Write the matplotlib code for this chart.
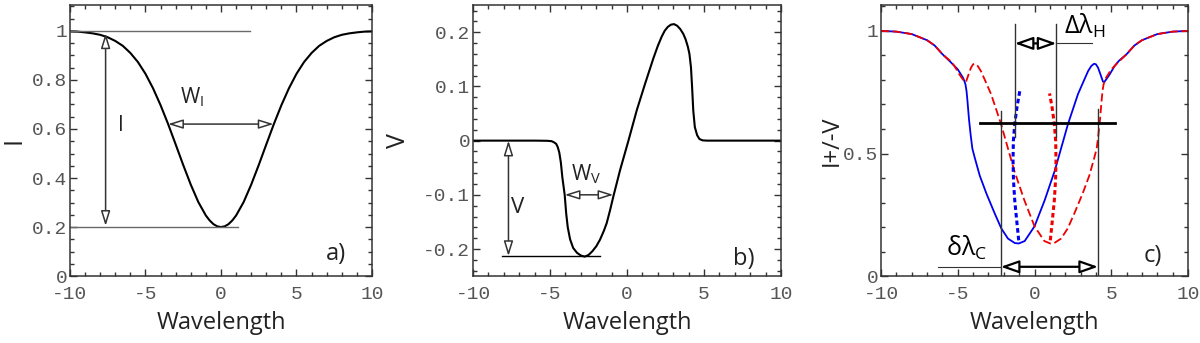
import matplotlib
matplotlib.use("Agg")
import matplotlib.pyplot as plt
from matplotlib.ticker import MultipleLocator

plt.rcParams['font.family'] = ['Open Sans', 'DejaVu Sans']
plt.rcParams['mathtext.fontset'] = 'custom'
plt.rcParams['mathtext.rm'] = 'Open Sans'
plt.rcParams['axes.unicode_minus'] = False

# a) Stokes I profile
wl_i = [-10, -9.5, -9, -8.5, -8, -7.5, -7, -6.5, -6, -5.5, -5, -4.5, -4, -3.5, -3, -2.5, -2, -1.5, -1,
        -0.75, -0.5, -0.25, 0, 0.25, 0.5, 0.75,
        1, 1.5, 2, 2.5, 3, 3.5, 4, 4.5, 5, 5.5, 6, 6.5, 7, 7.5, 8, 8.5, 9, 9.5, 10]
intensity = [0.998, 0.997, 0.994, 0.990, 0.984, 0.974, 0.959, 0.939, 0.910, 0.873, 0.825, 0.766, 0.697,
             0.620, 0.537, 0.453, 0.373, 0.302, 0.247,
             0.227, 0.212, 0.203, 0.200, 0.203, 0.212, 0.227,
             0.247, 0.302, 0.373, 0.453, 0.537, 0.620, 0.697, 0.766, 0.825, 0.873, 0.910, 0.939, 0.959,
             0.974, 0.984, 0.990, 0.994, 0.997, 0.998]

# b) Stokes V profile
wl_v = [-10, -6, -5.2, -4.9, -4.75, -4.6, -4.5, -4.4, -4.3, -4.2, -4.05, -3.95, -3.85, -3.7, -3.5,
        -3.25, -3.0, -2.75, -2.5, -2.25, -2.0, -1.76, -1.5, -1.32, -1.1, -0.89, -0.45, 0.09, 0.63,
        1.17, 1.71, 2.0, 2.25, 2.45, 2.65, 2.85, 3.05, 3.25, 3.45, 3.65, 3.8, 3.95, 4.05, 4.15, 4.22,
        4.3, 4.4, 4.55, 4.7, 4.9, 5.2, 10]
stokes_v = [0, 0, -0.0003, -0.001, -0.003, -0.006, -0.012, -0.022, -0.04, -0.068, -0.1, -0.135, -0.16,
            -0.182, -0.198, -0.207, -0.212, -0.214, -0.211, -0.204, -0.195, -0.183, -0.166, -0.152,
            -0.128, -0.103, -0.054, 0, 0.056, 0.105, 0.152, 0.175, 0.192, 0.203, 0.210, 0.214, 0.215,
            0.212, 0.206, 0.197, 0.187, 0.173, 0.160, 0.135, 0.100, 0.055, 0.025, 0.010, 0.003, 0.0005,
            0, 0]

# c) I+V and I-V
wl_plus = [-10, -9, -8, -7, -6.5, -6, -5.5, -5, -4.75, -4.66, -4.58, -4.5, -4.43, -4.37, -4.27, -4.16,
           -4.05, -3.9, -3.57, -3.13, -2.59, -2.16, -1.73, -1.29, -1.03, -0.64, 0.0, 0.66, 1.32, 2.18,
           2.83, 3.2, 3.49, 3.7, 3.88, 4.0, 4.14, 4.3, 4.46, 4.55, 4.68, 4.9, 5.22, 5.5, 6, 6.5, 7, 8,
           9, 10]
i_plus_v = [1.0, 0.997, 0.987, 0.962, 0.940, 0.905, 0.875, 0.843, 0.818, 0.809, 0.797, 0.782, 0.755,
            0.715, 0.640, 0.575, 0.520, 0.484, 0.410, 0.336, 0.255, 0.194, 0.153, 0.135, 0.133, 0.143,
            0.203, 0.309, 0.430, 0.620, 0.742, 0.795, 0.836, 0.857, 0.866, 0.864, 0.850, 0.822, 0.793,
            0.792, 0.803, 0.823, 0.857, 0.878, 0.905, 0.940, 0.962, 0.987, 0.997, 1.0]
wl_minus = [-10, -9, -8, -7, -6.5, -6, -5.5, -5.22, -4.9, -4.68, -4.55, -4.46, -4.3, -4.14, -4.0, -3.88,
            -3.7, -3.49, -3.2, -2.83, -2.18, -1.32, -0.66, 0.0, 0.64, 1.03, 1.29, 1.73, 2.16, 2.59, 3.13,
            3.57, 3.9, 4.05, 4.16, 4.27, 4.37, 4.43, 4.5, 4.58, 4.66, 4.75, 5, 5.5, 6, 6.5, 7, 8, 9, 10]
i_minus_v = [1.0, 0.997, 0.987, 0.962, 0.940, 0.905, 0.878, 0.857, 0.823, 0.803, 0.792, 0.793, 0.822,
             0.850, 0.864, 0.866, 0.857, 0.836, 0.795, 0.742, 0.620, 0.430, 0.309, 0.203, 0.143, 0.133,
             0.135, 0.153, 0.194, 0.255, 0.336, 0.410, 0.484, 0.520, 0.575, 0.640, 0.715, 0.755, 0.782,
             0.797, 0.809, 0.818, 0.843, 0.875, 0.905, 0.940, 0.962, 0.987, 0.997, 1.0]

# bisectors
bis_plus_y = [0.146, 0.22, 0.309, 0.39, 0.471, 0.55, 0.62, 0.69, 0.755]
bis_plus_x = [-1.03, -1.15, -1.29, -1.37, -1.40, -1.38, -1.29, -1.14, -0.96]
bis_minus_y = [0.146, 0.22, 0.309, 0.39, 0.471, 0.55, 0.62, 0.69, 0.745]
bis_minus_x = [1.03, 1.15, 1.29, 1.37, 1.40, 1.38, 1.29, 1.14, 0.98]

xticks = [-10, -5, 0, 5, 10]
a_yticks = [0, 0.2, 0.4, 0.6, 0.8, 1]
a_ylabels = ['0', '0.2', '0.4', '0.6', '0.8', '1']
b_yticks = [-0.2, -0.1, 0, 0.1, 0.2]
b_ylabels = ['-0.2', '-0.1', '0', '0.1', '0.2']
c_yticks = [0, 0.5, 1]
c_ylabels = ['0', '0.5', '1']

# annotation measures
i_depth_x, i_cont, i_core = -7.64, 1.0, 0.2
wi_level, wi_left, wi_right = 0.62, -3.5, 3.48
v_depth_x, v_min = -7.7, -0.213
wv_level, wv_left, wv_right = -0.1, -4.05, -0.89
level_c = 0.624
dh_left, dh_right, dh_y = -1.29, 1.43, 0.949
dc_left, dc_right, dc_y = -2.2, 4.14, 0.038

GRAY = '#6a6a6a'
DARK = '#333333'


def style_axes(ax, yticks, ylabels, ylim, yminor):
    ax.set_xlim(-10, 10)
    ax.set_ylim(*ylim)
    ax.set_xticks(xticks, [str(t) for t in xticks])
    ax.set_yticks(yticks, ylabels)
    ax.xaxis.set_minor_locator(MultipleLocator(1))
    ax.yaxis.set_minor_locator(MultipleLocator(yminor))
    ax.tick_params(which='both', direction='in', top=True, right=True, color=DARK, width=1)
    ax.tick_params(which='major', length=5, labelsize=14, labelcolor='#555555',
                   labelfontfamily='Liberation Mono')
    ax.tick_params(which='minor', length=3)
    ax.tick_params(axis='x', pad=7)
    ax.tick_params(axis='y', pad=2)
    for s in ax.spines.values():
        s.set_color(DARK)
        s.set_linewidth(1.1)
    ax.set_xlabel('Wavelength', fontsize=17, labelpad=6, color='#222222')


def double_arrow(ax, x0, y0, x1, y1, color=DARK, lw=1.1, hl=0.9, hw=0.28, scale=10):
    ax.annotate('', xy=(x1, y1), xytext=(x0, y0),
                arrowprops=dict(arrowstyle=f'<|-|>,head_length={hl},head_width={hw}',
                                fc='white', ec=color, lw=lw, shrinkA=0, shrinkB=0,
                                mutation_scale=scale))


fig = plt.figure(figsize=(12, 3.43), dpi=100)
ax_a = fig.add_axes([0.0583, 0.195, 0.2517, 0.79])
ax_b = fig.add_axes([0.3942, 0.195, 0.2567, 0.79])
ax_c = fig.add_axes([0.7342, 0.195, 0.2558, 0.79])

# a)
style_axes(ax_a, a_yticks, a_ylabels, (0, 1.105), 0.05)
ax_a.plot(wl_i, intensity, color='black', lw=1.5)
ax_a.plot([-10, 1.9], [i_cont, i_cont], color=GRAY, lw=1)
ax_a.plot([-10, 1.1], [i_core, i_core], color=GRAY, lw=1)
double_arrow(ax_a, i_depth_x, 0.99, i_depth_x, 0.205)
double_arrow(ax_a, wi_left, wi_level, wi_right, wi_level)
ax_a.text(-6.65, 0.615, 'I', fontsize=15, ha='center', va='center', color='#222222')
ax_a.text(-2.7, 0.73, 'W$_\\mathrm{I}$', fontsize=15, ha='left', va='center', color='#222222')
ax_a.text(7.6, 0.09, 'a)', fontsize=17, ha='center', va='center', color='#222222')
ax_a.set_ylabel('I', fontsize=18, color='#222222')
ax_a.yaxis.set_label_coords(-0.145, 0.5)

# b)
style_axes(ax_b, b_yticks, b_ylabels, (-0.25, 0.25), 0.02)
ax_b.plot(wl_v, stokes_v, color='black', lw=1.5)
ax_b.plot([-8.15, -1.76], [v_min, v_min], color='black', lw=1)
double_arrow(ax_b, v_depth_x, 0, v_depth_x, v_min)
double_arrow(ax_b, wv_left, wv_level, wv_right, wv_level)
ax_b.text(-7.1, -0.123, 'V', fontsize=16, ha='center', va='center', color='#222222')
ax_b.text(-3.65, -0.062, 'W$_\\mathrm{V}$', fontsize=15, ha='left', va='center', color='#222222')
ax_b.text(7.6, -0.218, 'b)', fontsize=17, ha='center', va='center', color='#222222')
ax_b.set_ylabel('V', fontsize=18, color='#222222')
ax_b.yaxis.set_label_coords(-0.2, 0.5)

# c)
style_axes(ax_c, c_yticks, c_ylabels, (0, 1.105), 0.1)
ax_c.plot(wl_plus, i_plus_v, color='#0000ee', lw=1.3)
ax_c.plot(wl_minus, i_minus_v, color='#ee0000', lw=1.3, ls=(0, (4.5, 2)))
ax_c.plot(bis_plus_x, bis_plus_y, color='#0000ee', lw=2.2, ls=(0, (1.5, 1)))
ax_c.plot(bis_minus_x, bis_minus_y, color='#ee0000', lw=2.2, ls=(0, (1.5, 1)))
ax_c.plot([dh_left, dh_left], [0.566, 1.03], color=DARK, lw=1)
ax_c.plot([dh_right, dh_right], [0.566, 1.03], color=DARK, lw=1)
ax_c.plot([dc_left, dc_left], [0, 0.674], color=DARK, lw=1)
ax_c.plot([dc_right, dc_right], [0, 0.681], color=DARK, lw=1)
ax_c.plot([-3.57, 5.22], [level_c, level_c], color='black', lw=2)
ax_c.plot([dh_right, 3.77], [dh_y, dh_y], color=DARK, lw=0.8)
ax_c.plot([-6.29, dc_left], [dc_y, dc_y], color=DARK, lw=0.8)
double_arrow(ax_c, dh_left, dh_y, dh_right, dh_y, color='black', lw=1.6, hl=1.0, hw=0.35, scale=11)
double_arrow(ax_c, dc_left, dc_y, dc_right, dc_y, color='black', lw=1.6, hl=1.0, hw=0.35, scale=11)
ax_c.text(1.95, 1.02, 'Δλ$_\\mathrm{H}$', fontsize=18, ha='left', va='center', color='black')
ax_c.text(-5.8, 0.114, 'δλ$_\\mathrm{C}$', fontsize=18, ha='left', va='center', color='black')
ax_c.text(7.7, 0.08, 'c)', fontsize=17, ha='center', va='center', color='#222222')
ax_c.set_ylabel('I+/-V', fontsize=17, color='#222222')
ax_c.yaxis.set_label_coords(-0.12, 0.5)

fig.savefig('out.png', dpi=100)
